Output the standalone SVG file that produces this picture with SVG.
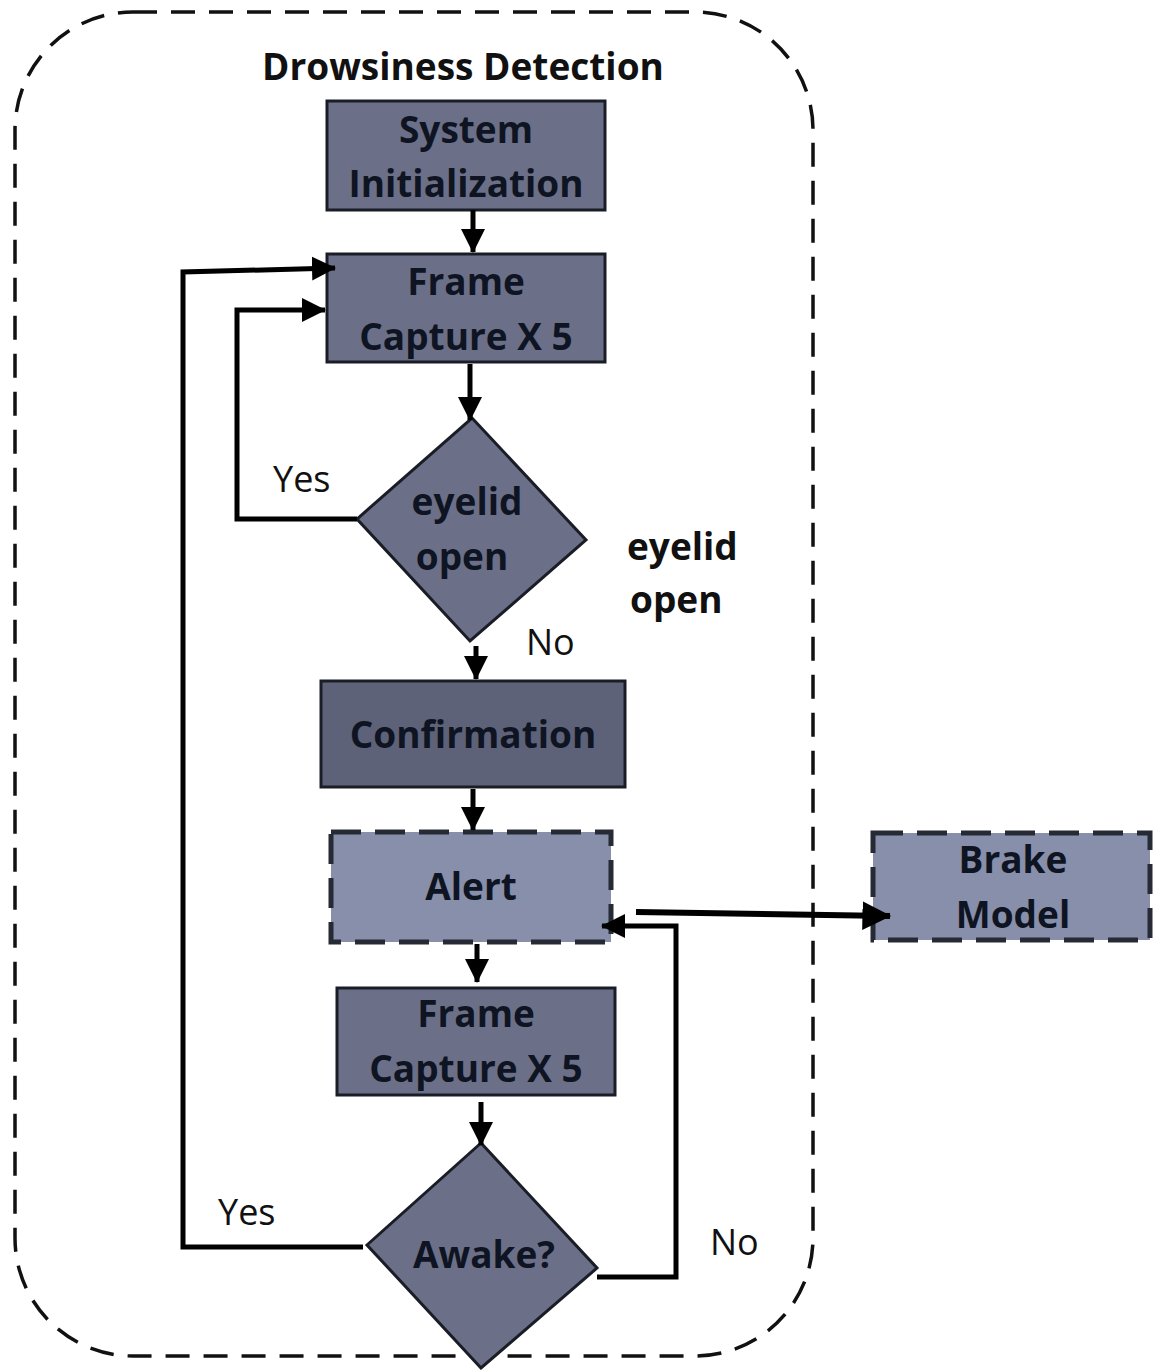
<svg xmlns="http://www.w3.org/2000/svg" width="1153" height="1370" viewBox="0 0 1153 1370">
  <defs>
    <marker id="arrow" markerWidth="6" markerHeight="6" refX="4.6" refY="2.6" orient="auto" markerUnits="strokeWidth">
      <path d="M0,0.2 L4.8,2.6 L0,5 Z" fill="#000"/>
    </marker>
    <style>
      .box { fill: #6b7088; stroke: #1a1d26; stroke-width: 3; }
      .dark { fill: #5d6279; }
      .light { fill: #878fab; stroke: #262a35; stroke-width: 5; stroke-dasharray: 30 14; }
      .lbl { font-family: "Open Sans", "Liberation Sans", sans-serif; font-weight: bold; font-size: 37px; fill: #0f1422; text-anchor: middle; }
      .txt { font-family: "Open Sans", "Liberation Sans", sans-serif; font-size: 36px; fill: #111; }
      .bold { font-family: "Open Sans", "Liberation Sans", sans-serif; font-weight: bold; font-size: 37px; fill: #111; }
      .wire-arrow { fill: none; stroke: #000; stroke-width: 5; marker-end: url(#arrow); }
    </style>
  </defs>
  <rect width="1153" height="1370" fill="#fff"/>

  <!-- boundary of the drowsiness detection subsystem -->
  <rect x="15" y="12" width="798" height="1344" rx="118" ry="118" fill="none" stroke="#111" stroke-width="3.5" stroke-dasharray="24 14"/>
  <text class="bold" x="463" y="80" text-anchor="middle">Drowsiness Detection</text>

  <g id="system-init">
    <rect class="box" x="327" y="101" width="278" height="109"/>
    <text class="lbl" x="466" y="143">System</text>
    <text class="lbl" x="466" y="197">Initialization</text>
  </g>

  <g id="frame-capture-1">
    <rect class="box" x="327" y="254" width="278" height="108"/>
    <text class="lbl" x="466" y="295">Frame</text>
    <text class="lbl" x="466" y="350">Capture X 5</text>
  </g>

  <g id="eyelid-check">
    <polygon class="box" points="472,418 586,540 470,641 357,519"/>
    <text class="lbl" x="467" y="515">eyelid</text>
    <text class="lbl" x="462" y="570">open</text>
  </g>
  <text class="txt" x="273" y="492">Yes</text>
  <text class="txt" x="526" y="655">No</text>
  <text class="bold" x="627" y="560">eyelid</text>
  <text class="bold" x="630" y="613">open</text>

  <g id="confirmation">
    <rect class="box dark" x="321" y="681" width="304" height="106"/>
    <text class="lbl" x="473" y="748">Confirmation</text>
  </g>

  <g id="alert">
    <rect class="light" x="331" y="832" width="280" height="110"/>
    <text class="lbl" x="471" y="900">Alert</text>
  </g>

  <g id="brake-model">
    <rect class="light" x="873" y="833" width="277" height="107"/>
    <text class="lbl" x="1013" y="873">Brake</text>
    <text class="lbl" x="1013" y="928">Model</text>
  </g>

  <g id="frame-capture-2">
    <rect class="box" x="337" y="988" width="278" height="107"/>
    <text class="lbl" x="476" y="1027">Frame</text>
    <text class="lbl" x="476" y="1082">Capture X 5</text>
  </g>

  <g id="awake-check">
    <polygon class="box" points="481,1143 597,1268 481,1368 367,1245"/>
    <text class="lbl" x="484" y="1268">Awake?</text>
  </g>
  <text class="txt" x="218" y="1225">Yes</text>
  <text class="txt" x="710" y="1255">No</text>

  <g id="connectors">
    <line class="wire-arrow" x1="473" y1="210" x2="473" y2="252"/>
    <line class="wire-arrow" x1="470" y1="364" x2="470" y2="420"/>
    <polyline class="wire-arrow" points="357,519 237,519 237,310 325,310"/>
    <polyline class="wire-arrow" points="363,1247 183,1247 183,272 335,268"/>
    <line class="wire-arrow" x1="476" y1="646" x2="476" y2="679"/>
    <line class="wire-arrow" x1="473" y1="789" x2="473" y2="830"/>
    <line class="wire-arrow" x1="477" y1="944" x2="477" y2="982"/>
    <line class="wire-arrow" x1="481" y1="1102" x2="481" y2="1145"/>
    <polyline class="wire-arrow" points="597,1277 676,1277 676,926 602,926"/>
    <line class="wire-arrow" style="stroke-width:6" x1="636" y1="912" x2="890" y2="916"/>
  </g>
</svg>
